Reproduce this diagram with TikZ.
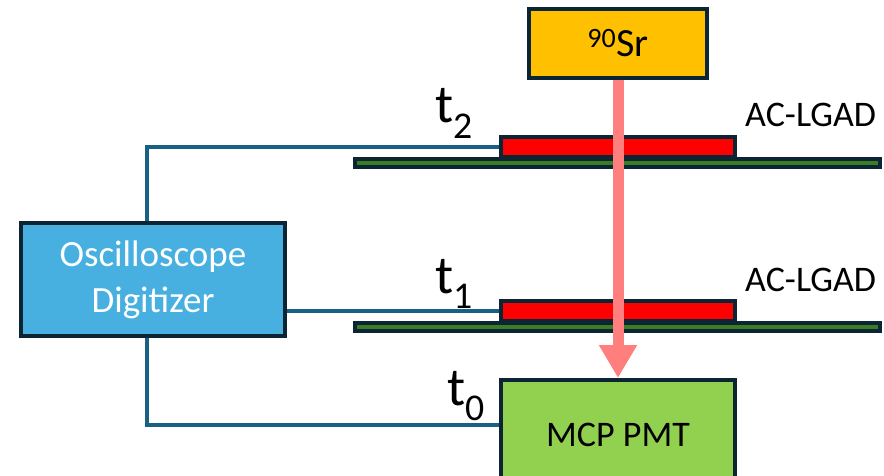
\documentclass[tikz,border=0pt]{standalone}
\usepackage{fontspec}
\setmainfont{Carlito}
\usetikzlibrary{arrows.meta}
\definecolor{myborder}{HTML}{0B2535}
\definecolor{mywire}{HTML}{1A5F84}
\definecolor{mysr}{HTML}{FFC000}
\definecolor{myosc}{HTML}{47B0E0}
\definecolor{mymcp}{HTML}{92D050}
\definecolor{mylgad}{HTML}{FF0000}
\definecolor{mypcb}{HTML}{3B7D23}
\definecolor{mybeam}{HTML}{FF7F7F}

\begin{document}
\begin{tikzpicture}[x=1pt, y=-1pt,
  box/.style={draw=myborder, line width=4pt, inner sep=0pt},
  wire/.style={draw=mywire, line width=4pt},
  beam/.style={draw=mybeam, line width=11pt, -{Triangle[width=36pt,length=33pt]}},
  label/.style={font=\fontsize{36}{43}\selectfont},
  tlabel/.style={font=\fontsize{54}{60}\selectfont, inner sep=0pt}]

 \clip (0,0) rectangle (884,476);

 % source, readout and trigger
 \node[box, fill=mysr, minimum width=178, minimum height=69] (sr) at (618,43.5)
   {\fontsize{40}{48}\selectfont\textsuperscript{90}Sr};
 \node[box, fill=myosc, minimum width=264, minimum height=113, align=center,
   text=white, font=\fontsize{37}{46}\selectfont] (osc) at (153,279.5) {Oscilloscope\\Digitizer};
 \node[box, fill=mymcp, minimum width=234, minimum height=110] (mcp) at (618,435)
   {\fontsize{36}{43}\selectfont MCP PMT};

 % the two sensors on their boards
 \foreach \n/\y in {2/146.75, 1/310.75}{
   \node[box, fill=mypcb, minimum width=525, minimum height=8] (pcb\n) at (617.5,\y+16.25) {};
   \node[box, fill=mylgad, minimum width=234, minimum height=20] (lgad\n) at (618,\y) {};
   \node[label, anchor=base west, inner sep=0pt] (name\n) at (745,\y-19.75) {AC-LGAD};
 }

 \draw[wire] ([xshift=-6pt]osc.north) |- (lgad2.west);
 \draw[wire] (osc.east |- lgad1.west) -- (lgad1.west);
 \draw[wire] ([xshift=-6pt]osc.south) |- ([yshift=10pt]mcp.west);

 \draw[beam] (sr.south) -- (mcp.north);

 \node[tlabel, anchor=base east] (t2) at (473,123) {t\textsubscript{2}};
 \node[tlabel, anchor=base east] (t1) at (473,293) {t\textsubscript{1}};
 \node[tlabel, anchor=base east] (t0) at (485,405) {t\textsubscript{0}};

\end{tikzpicture}
\end{document}
